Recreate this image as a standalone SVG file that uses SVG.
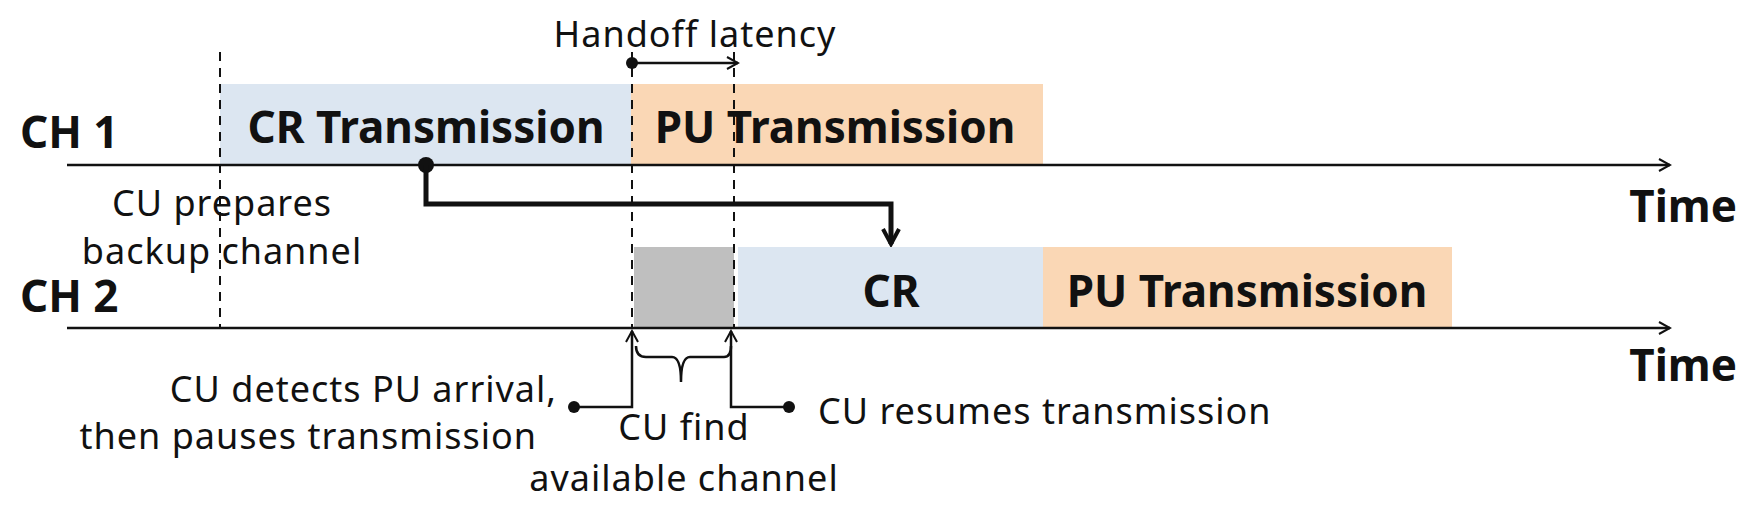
<svg xmlns="http://www.w3.org/2000/svg" width="1749" height="510" viewBox="0 0 1749 510">
<style>
.b{font-family:"Noto Sans","Open Sans",sans-serif;font-weight:bold;font-size:44px;fill:#111}
.r{font-family:"Noto Sans","Open Sans",sans-serif;font-size:36px;letter-spacing:1px;fill:#111}
.ax{stroke:#111;stroke-width:2.5;fill:none}
.d{stroke:#111;stroke-width:2;stroke-dasharray:9,7;fill:none}
.t{stroke:#111;stroke-width:2.5;fill:none}
</style>
<defs>
<marker id="oa" markerWidth="14" markerHeight="14" refX="12" refY="7" orient="auto" markerUnits="userSpaceOnUse"><path d="M1,1 L12,7 L1,13" fill="none" stroke="#111" stroke-width="2"/></marker>
<marker id="ba" markerWidth="20" markerHeight="20" refX="17" refY="10" orient="auto" markerUnits="userSpaceOnUse"><path d="M2,2 L17,10 L2,18" fill="none" stroke="#111" stroke-width="4"/></marker>
</defs>
<g id="ch1">
<rect x="220" y="84" width="411" height="81" fill="#dce6f1"/>
<text class="b" x="426" y="143" text-anchor="middle">CR Transmission</text>
<rect x="631" y="84" width="412" height="81" fill="#fad7b5"/>
<text class="b" x="835" y="143" text-anchor="middle">PU Transmission</text>
<text class="b" x="20" y="148" font-size="46">CH 1</text>
</g>
<g id="ch2">
<rect x="634" y="247" width="100" height="81" fill="#bfbfbf"/>
<rect x="738" y="247" width="305" height="81" fill="#dce6f1"/>
<text class="b" x="891" y="307" text-anchor="middle">CR</text>
<rect x="1043" y="247" width="409" height="81" fill="#fad7b5"/>
<text class="b" x="1247" y="307" text-anchor="middle">PU Transmission</text>
<text class="b" x="20" y="312" font-size="46">CH 2</text>
</g>
<g id="labels">
<text class="b" x="1737" y="222" text-anchor="end" font-size="40">Time</text>
<text class="b" x="1737" y="381" text-anchor="end" font-size="40">Time</text>
<text class="r" x="695" y="47" text-anchor="middle">Handoff latency</text>
<text class="r" x="222" y="216" text-anchor="middle">CU prepares</text>
<text class="r" x="222" y="264" text-anchor="middle">backup channel</text>
<text class="r" x="557" y="402" text-anchor="end">CU detects PU arrival,</text>
<text class="r" x="537" y="449" text-anchor="end">then pauses transmission</text>
<text class="r" x="684" y="440" text-anchor="middle">CU find</text>
<text class="r" x="684" y="491" text-anchor="middle">available channel</text>
<text class="r" x="818" y="424">CU resumes transmission</text>
</g>
<g id="connectors">
<line class="ax" x1="67" y1="165" x2="1670" y2="165" marker-end="url(#oa)"/>
<line class="ax" x1="67" y1="328" x2="1670" y2="328" marker-end="url(#oa)"/>
<line class="d" x1="220" y1="52" x2="220" y2="328"/>
<line class="d" x1="632" y1="52" x2="632" y2="328"/>
<line class="d" x1="734" y1="52" x2="734" y2="328"/>
<circle cx="632" cy="63" r="6" fill="#111"/>
<line class="t" x1="632" y1="63" x2="738" y2="63" marker-end="url(#oa)"/>
<circle cx="426" cy="165" r="8" fill="#111"/>
<path d="M426,165 V204 H891 V244" stroke="#111" stroke-width="5" fill="none" marker-end="url(#ba)"/>
<circle cx="574" cy="407" r="6" fill="#111"/>
<path class="t" d="M574,407 H632 V331" marker-end="url(#oa)"/>
<circle cx="789" cy="407" r="6" fill="#111"/>
<path class="t" d="M789,407 H731 V331" marker-end="url(#oa)"/>
<path class="t" d="M636,346 Q636,357 646,357 H672 Q681,357 681,382 Q681,357 690,357 H724 Q731,357 731,346"/>
</g>
</svg>
